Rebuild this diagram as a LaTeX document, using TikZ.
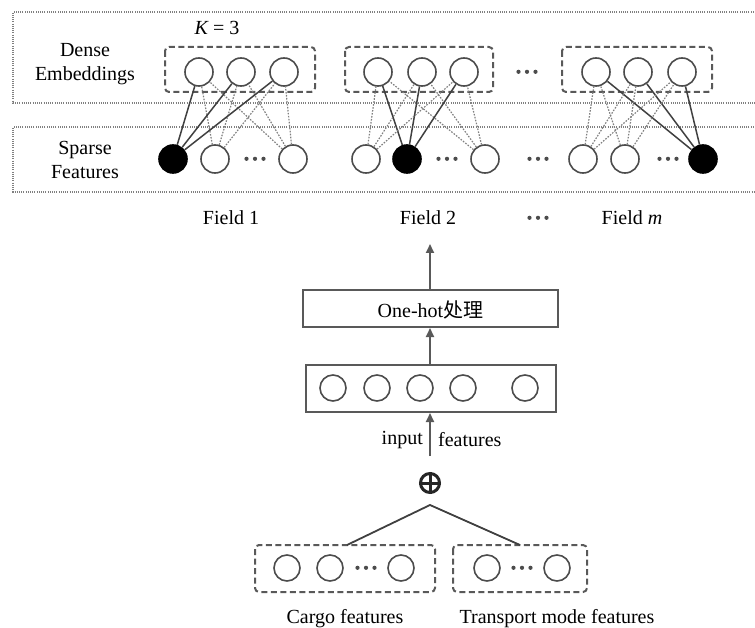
\documentclass[tikz,border=0pt]{standalone}
\usepackage{fontspec}
\setmainfont{Liberation Serif}
\newfontfamily\cjk{Noto Sans CJK SC}
\usetikzlibrary{arrows.meta}
\newcommand{\mydots}{\tikz[baseline=-2.5pt,x=1pt,y=1pt]{\fill[black!70] (0,0) circle (2.1pt) (8.5,0) circle (2.1pt) (17,0) circle (2.1pt);}}
\begin{document}
\begin{tikzpicture}[x=1pt,y=-1pt,
 nd/.style={circle,draw=black!70,line width=1.6pt,minimum size=28pt,inner sep=0pt},
 ndb/.style={nd,fill=black,draw=black},
 sm/.style={circle,draw=black!70,line width=1.6pt,minimum size=26pt,inner sep=0pt},
 grp/.style={draw=black!65,line width=2pt,dash pattern=on 6pt off 3.5pt,rounded corners=4pt},
 outerbox/.style={draw=black!50,line width=1.5pt,dash pattern=on 1pt off 1.2pt},
 sol/.style={draw=black!75,line width=1.5pt},
 dotl/.style={draw=black!50,line width=1.2pt,dash pattern=on 1.6pt off 1.4pt},
 lbl/.style={font=\fontsize{20}{24}\selectfont,align=center,inner sep=0pt},
 arr/.style={draw=black!65,line width=2pt,-{Triangle[length=9pt,width=8pt]}},
 dotsn/.style={inner sep=0pt},
 plainbox/.style={draw=black!65,line width=2pt,inner sep=0pt}
]
\useasboundingbox (0,0) rectangle (755,628);

% outer dotted boxes
\draw[outerbox] (756,12) -- (13,12) -- (13,103) -- (756,103);
\draw[outerbox] (756,127) -- (13,127) -- (13,192) -- (756,192);

\node[lbl] (dense) at (85,64) {Dense\\Embeddings};
\node[lbl] (sparse) at (85,160) {Sparse\\Features};
\node[lbl] (kval) at (217,28) {{\itshape K} = 3};

% embedding groups
\draw[grp] (165,47) rectangle (315,92);
\draw[grp] (345,47) rectangle (493,92);
\draw[grp] (562,47) rectangle (712,92);

\node[nd] (e11) at (199,72) {};
\node[nd] (e12) at (241,72) {};
\node[nd] (e13) at (284,72) {};
\node[nd] (e21) at (378,72) {};
\node[nd] (e22) at (422,72) {};
\node[nd] (e23) at (464,72) {};
\node[nd] (e31) at (596,72) {};
\node[nd] (e32) at (638,72) {};
\node[nd] (e33) at (682,72) {};
\node[dotsn] (edots) at (527,72) {\mydots};

% sparse nodes
\node[ndb] (s11) at (173,159) {};
\node[nd] (s12) at (215,159) {};
\node[dotsn] (sd1) at (255,159) {\mydots};
\node[nd] (s13) at (293,159) {};
\node[nd] (s21) at (366,159) {};
\node[ndb] (s22) at (407,159) {};
\node[dotsn] (sd2) at (447,159) {\mydots};
\node[nd] (s23) at (485,159) {};
\node[dotsn] (sdm) at (538,159) {\mydots};
\node[nd] (s31) at (583,159) {};
\node[nd] (s32) at (625,159) {};
\node[dotsn] (sd3) at (668,159) {\mydots};
\node[ndb] (s33) at (703,159) {};

% connections
\foreach \e in {e11,e12,e13} {
  \draw[dotl] (s12) -- (\e);
  \draw[dotl] (s13) -- (\e);
  \draw[sol] (s11) -- (\e);
}
\foreach \e in {e21,e22,e23} {
  \draw[dotl] (s21) -- (\e);
  \draw[dotl] (s23) -- (\e);
  \draw[sol] (s22) -- (\e);
}
\foreach \e in {e31,e32,e33} {
  \draw[dotl] (s31) -- (\e);
  \draw[dotl] (s32) -- (\e);
  \draw[sol] (s33) -- (\e);
}

% field labels
\node[lbl] (f1) at (231,218) {Field 1};
\node[lbl] (f2) at (428,218) {Field 2};
\node[dotsn] (fd) at (538,218) {\mydots};
\node[lbl] (fm) at (632,218) {Field {\itshape m}};
\coordinate (atop) at (430,244);

% one-hot
\node[plainbox,minimum width=255pt,minimum height=37pt] (onehot) at (430.5,308.5) {};
\node[lbl] (ohtext) at (430.5,310) {One-hot{\cjk 处理}};
\draw[arr] (onehot.north -| atop) -- (atop);

% input circles box
\node[plainbox,minimum width=250pt,minimum height=47pt] (inbox) at (431,388.5) {};
\node[sm] (i1) at (333,388) {};
\node[sm] (i2) at (377,388) {};
\node[sm] (i3) at (420,388) {};
\node[sm] (i4) at (463,388) {};
\node[sm] (i5) at (525,388) {};
\draw[arr] (inbox.north -| atop) -- (onehot.south -| atop);

% plus
\node[circle,draw=black!85,line width=3pt,minimum size=19pt,inner sep=0pt] (plus) at (430,483) {};
\draw[black!85,line width=3pt] (plus.north) -- (plus.south) (plus.west) -- (plus.east);
\draw[arr] (plus.north |- 0,456) -- (inbox.south -| atop);
\node[lbl,anchor=east] (inlbl) at (423,440) {input};
\node[lbl,anchor=west] (ftlbl) at (438,440) {features};

% bottom groups
\draw[grp] (255,545) rectangle (435,592);
\draw[grp] (453,545) rectangle (587,592);
\coordinate (ctop) at (347,545);
\coordinate (ttop) at (520,545);
\coordinate (pbot) at (430,505);
\draw[sol,line width=1.8pt] (ctop) -- (pbot) -- (ttop);
\node[sm] (c1) at (287,568) {};
\node[sm] (c2) at (330,568) {};
\node[dotsn] (cd) at (366,568) {\mydots};
\node[sm] (c3) at (401,568) {};
\node[sm] (t1) at (487,568) {};
\node[dotsn] (td) at (522,568) {\mydots};
\node[sm] (t2) at (557,568) {};

\node[lbl] (cargo) at (345,619) {Cargo features};
\node[lbl] (trans) at (557,619) {Transport mode features};
\end{tikzpicture}
\end{document}
